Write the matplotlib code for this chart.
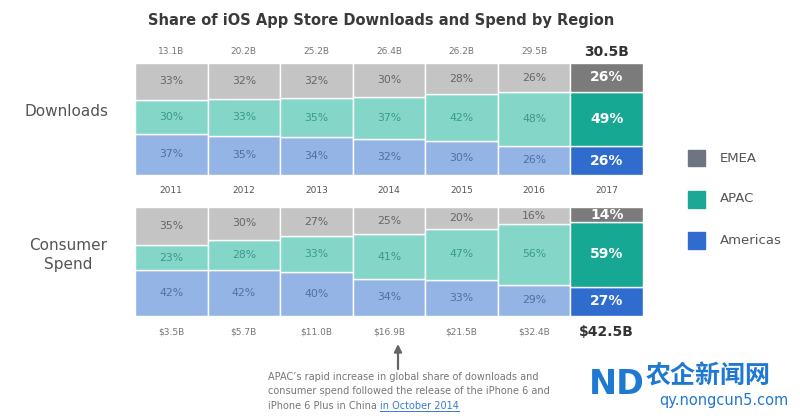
import matplotlib
matplotlib.use("Agg")
import matplotlib.pyplot as plt
import numpy as np

plt.rcParams['font.family'] = ['DejaVu Sans', 'Noto Sans CJK SC']

years = ["2011", "2012", "2013", "2014", "2015", "2016", "2017"]
dl_totals = ["13.1B", "20.2B", "25.2B", "26.4B", "26.2B", "29.5B", "30.5B"]
sp_totals = ["$3.5B", "$5.7B", "$11.0B", "$16.9B", "$21.5B", "$32.4B", "$42.5B"]

dl_emea = [33, 32, 32, 30, 28, 26, 26]
dl_apac = [30, 33, 35, 37, 42, 48, 49]
dl_amer = [37, 35, 34, 32, 30, 26, 26]

sp_emea = [35, 30, 27, 25, 20, 16, 14]
sp_apac = [23, 28, 33, 41, 47, 56, 59]
sp_amer = [42, 42, 40, 34, 33, 29, 27]

regions = ["EMEA", "APAC", "Americas"]

W, H = 800, 420
fig = plt.figure(figsize=(8, 4.2), dpi=100)
fig.patch.set_facecolor("white")

def fx(x):
    return x / W

def fy(y):
    return 1 - y / H

light = {"EMEA": "#c4c4c4", "APAC": "#84d6c9", "Americas": "#95b4e6"}
dark = {"EMEA": "#7b7b7b", "APAC": "#17a894", "Americas": "#2f6ccd"}
txtc = {"EMEA": "#666666", "APAC": "#3a9a8b", "Americas": "#4f6fa6"}
legc = {"EMEA": "#6e7580", "APAC": "#1ca894", "Americas": "#2f6ccd"}

def panel(rect, emea, apac, amer):
    ax = fig.add_axes(rect)
    ax.set_xlim(-0.5, 6.5)
    ax.set_ylim(0, 1)
    ax.axis("off")
    n = len(years)
    for i in range(n):
        vals = {"Americas": amer[i], "APAC": apac[i], "EMEA": emea[i]}
        tot = sum(vals.values())
        bottom = 0.0
        for r in ["Americas", "APAC", "EMEA"]:
            h = vals[r] / tot
            last = (i == n - 1)
            col = dark[r] if last else light[r]
            ax.bar(i, h, bottom=bottom, width=1.0, color=col,
                   edgecolor="white", linewidth=1.0)
            if last:
                ax.text(i, bottom + h / 2, f"{vals[r]}%", ha="center", va="center",
                        color="white", fontsize=10, fontweight="bold")
            else:
                ax.text(i, bottom + h / 2, f"{vals[r]}%", ha="center", va="center",
                        color=txtc[r], fontsize=7.8)
            bottom += h
    return ax

left, right = 135, 643
ax1 = panel([fx(left), fy(175), (right - left) / W, 112 / H], dl_emea, dl_apac, dl_amer)
ax2 = panel([fx(left), fy(316), (right - left) / W, 109 / H], sp_emea, sp_apac, sp_amer)

colw = (right - left) / 7
for i in range(7):
    cx = left + colw * (i + 0.5)
    last = i == 6
    fig.text(fx(cx), fy(52), dl_totals[i], ha="center", va="center",
             fontsize=10 if last else 6.5, fontweight="bold" if last else "normal",
             color="#333333" if last else "#777777")
    fig.text(fx(cx), fy(191), years[i], ha="center", va="center",
             fontsize=6.5, color="#555555")
    fig.text(fx(cx), fy(332), sp_totals[i], ha="center", va="center",
             fontsize=10 if last else 6.5, fontweight="bold" if last else "normal",
             color="#333333" if last else "#777777")

fig.text(fx(381), fy(20), "Share of iOS App Store Downloads and Spend by Region",
         ha="center", va="center", fontsize=10.5, fontweight="bold", color="#3a3a3a")

fig.text(fx(66), fy(111), "Downloads", ha="center", va="center", fontsize=11, color="#555555")
fig.text(fx(68), fy(255), "Consumer\nSpend", ha="center", va="center", fontsize=11,
         color="#555555", linespacing=1.35)

# legend
for r, yy in zip(regions, [158, 199, 240]):
    fig.patches.append(plt.Rectangle((fx(688), fy(yy + 8.5)), 17 / W, 17 / H,
                                     transform=fig.transFigure, color=legc[r]))
    fig.text(fx(720), fy(yy), r, ha="left", va="center", fontsize=9.5, color="#555555")

# annotation arrow
fig.add_artist(matplotlib.patches.FancyArrowPatch((fx(398), fy(369)), (fx(398), fy(344)),
               transform=fig.transFigure, arrowstyle="-|>", mutation_scale=11,
               shrinkA=0, shrinkB=0, color="#666666", linewidth=1.6))

note_lines = ["APAC\u2019s rapid increase in global share of downloads and",
              "consumer spend followed the release of the iPhone 6 and",
              "iPhone 6 Plus in China "]
for k, line in enumerate(note_lines):
    t = fig.text(fx(268), fy(377 + 14.5 * k), line, ha="left", va="center",
                 fontsize=7, color="#777777")
fig.canvas.draw()
bb = t.get_window_extent()
link_x = bb.x1 / W
lt = fig.text(link_x, fy(377 + 29), "in October 2014", ha="left", va="center",
              fontsize=7, color="#3a7bd5")
fig.canvas.draw()
lb = lt.get_window_extent()
fig.add_artist(matplotlib.lines.Line2D([lb.x0 / W, lb.x1 / W], [lb.y0 / H, lb.y0 / H],
               transform=fig.transFigure, color="#3a7bd5", linewidth=0.7))

# watermark
fig.text(fx(708), fy(377), "农企新闻网", ha="center", va="center", fontsize=18,
         fontweight="bold", color="#1f78d1", family=["Noto Sans CJK SC", "DejaVu Sans"])
fig.text(fx(724), fy(401), "qy.nongcun5.com", ha="center", va="center", fontsize=10.5,
         color="#1f78d1")
fig.text(fx(617), fy(385), "ND", ha="center", va="center", fontsize=24,
         fontweight="bold", color="#1f78d1")

fig.savefig("out.png", dpi=100)
